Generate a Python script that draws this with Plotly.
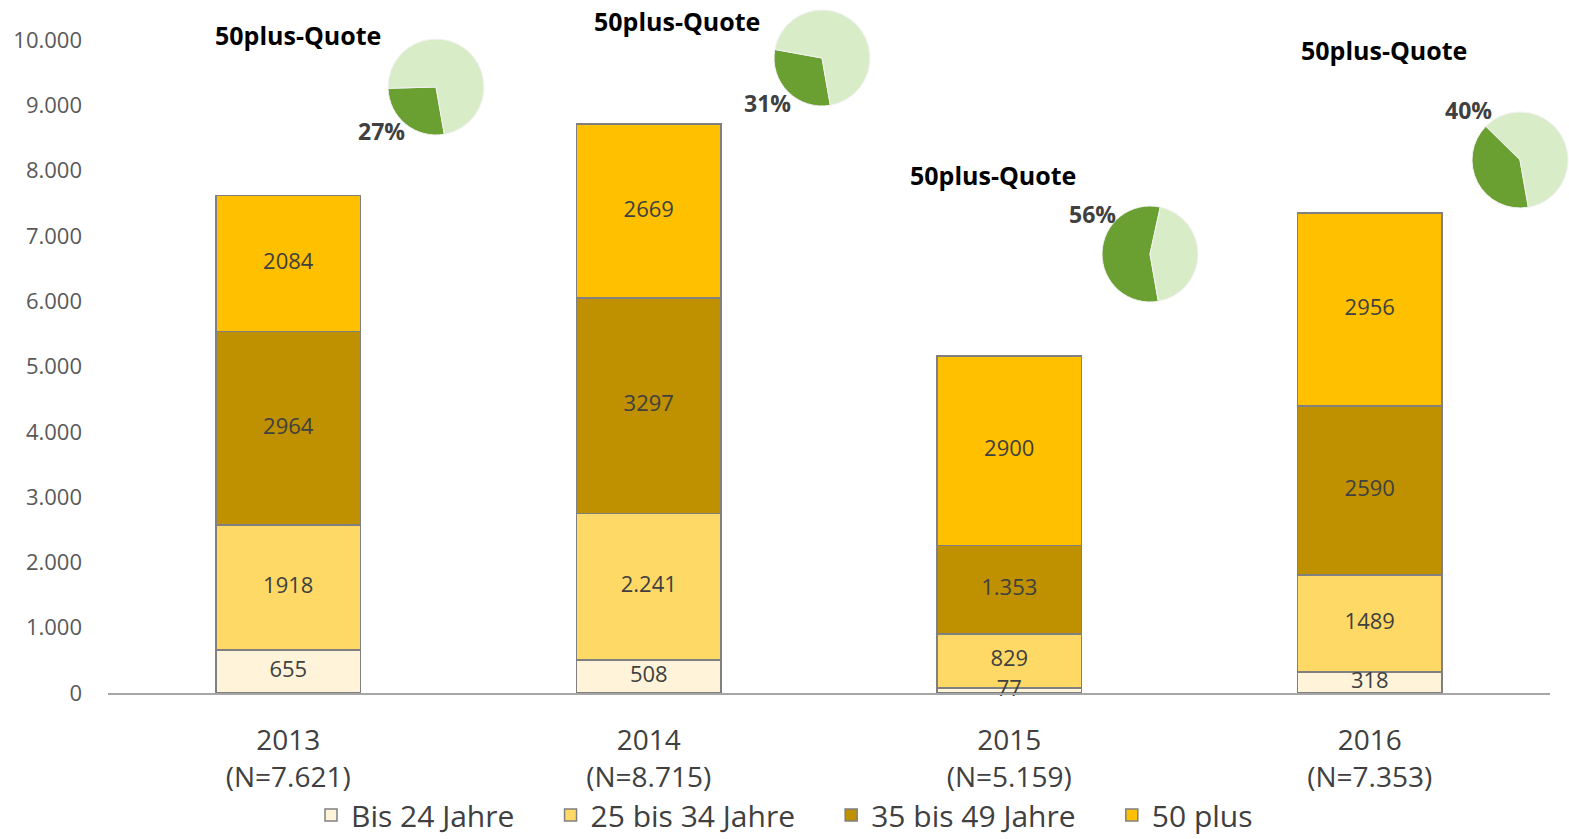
import plotly.graph_objects as go

years = ["2013", "2014", "2015", "2016"]
n_totals = ["7.621", "8.715", "5.159", "7.353"]
series_names = ["Bis 24 Jahre", "25 bis 34 Jahre", "35 bis 49 Jahre", "50 plus"]
bis24 = [655, 508, 77, 318]
a25_34 = [1918, 2241, 829, 1489]
a35_49 = [2964, 3297, 1353, 2590]
plus50 = [2084, 2669, 2900, 2956]
bis24_text = ["655", "508", "77", "318"]
a25_34_text = ["1918", "2.241", "829", "1489"]
a35_49_text = ["2964", "3297", "1.353", "2590"]
plus50_text = ["2084", "2669", "2900", "2956"]
quote_labels = ["27%", "31%", "56%", "40%"]
y_ticks = [0, 1000, 2000, 3000, 4000, 5000, 6000, 7000, 8000, 9000, 10000]
y_ticktext = ["0", "1.000", "2.000", "3.000", "4.000", "5.000", "6.000", "7.000", "8.000", "9.000", "10.000"]

colors = ["#FFF4DA", "#FFD966", "#BF9000", "#FFC000"]
W, H = 1569, 839
ML, MR, MT, MB = 108, 0, 0, 146
PW, PH = W - ML - MR, H - MT - MB
FONT = "Open Sans"

fig = go.Figure()
cats = [f"{y}<br>(N={n})" for y, n in zip(years, n_totals)]
all_vals = [bis24, a25_34, a35_49, plus50]
all_txt = [bis24_text, a25_34_text, a35_49_text, plus50_text]
base = [0, 0, 0, 0]
for name, vals, txt, col in zip(series_names, all_vals, all_txt, colors):
    fig.add_trace(go.Bar(
        name=name + "\u00a0" * 4, x=cats, y=vals,
        marker=dict(color=col, line=dict(color="#808080", width=1.5)),
        width=0.4, hoverinfo="skip"))
    mids = [b + v / 2 for b, v in zip(base, vals)]
    fig.add_trace(go.Scatter(
        x=cats, y=mids, text=txt, mode="text", textposition="middle center",
        textfont=dict(family=FONT, size=22, color="#404040"),
        showlegend=False, hoverinfo="skip", cliponaxis=False))
    base = [b + v for b, v in zip(base, vals)]

# pies (pixel centre positions for layout)
pie_centers = [(436, 87), (822, 58), (1150, 254), (1520, 160)]
pie_r = 48
title_pos = [(298, 35), (677, 21), (993, 175), (1384, 50)]
pct_pos = [(381, 131), (767, 103), (1092, 214), (1468, 110)]

def px2paper(px, py):
    return (px - ML) / PW, (H - MB - py) / PH

annotations = []
for i in range(4):
    cx, cy = pie_centers[i]
    x0, y1 = px2paper(cx - pie_r, cy - pie_r)
    x1, y0 = px2paper(cx + pie_r, cy + pie_r)
    total = bis24[i] + a25_34[i] + a35_49[i] + plus50[i]
    fig.add_trace(go.Pie(
        values=[plus50[i], total - plus50[i]], labels=["50 plus", "Rest"],
        sort=False, direction="clockwise", rotation=170,
        marker=dict(colors=["#6A9F32", "#D9ECC8"], line=dict(color="#F2F2F2", width=1)),
        textinfo="none", showlegend=False, hoverinfo="skip",
        domain=dict(x=[max(0, x0), min(1, x1)], y=[y0, y1])))
    tx, ty = px2paper(*title_pos[i])
    annotations.append(dict(text="<b>50plus-Quote</b>", x=tx, y=ty, xref="paper", yref="paper",
                            showarrow=False, xanchor="center", yanchor="middle",
                            font=dict(family=FONT, size=25, color="#000000")))
    qx, qy = px2paper(*pct_pos[i])
    annotations.append(dict(text=f"<b>{quote_labels[i]}</b>", x=qx, y=qy, xref="paper", yref="paper",
                            showarrow=False, xanchor="center", yanchor="middle",
                            font=dict(family=FONT, size=23, color="#404040")))

lx, ly = px2paper(800, 815)
fig.update_layout(
    width=W, height=H, barmode="stack",
    margin=dict(l=ML, r=MR, t=MT, b=MB, pad=0, autoexpand=False),
    plot_bgcolor="white", paper_bgcolor="white",
    annotations=annotations,
    legend=dict(orientation="h", x=lx, xanchor="center",
                y=ly, yanchor="middle",
                font=dict(family=FONT, size=30, color="#404040"),
                traceorder="normal", bgcolor="rgba(0,0,0,0)"),
    xaxis=dict(domain=[0, (1550 - ML) / PW], showline=True, linecolor="#A6A6A6", linewidth=1.5,
               tickfont=dict(family=FONT, size=28, color="#404040"),
               ticks="", ticklabelstandoff=22, automargin=False),
    yaxis=dict(domain=[0, (H - MB - 40) / PH], range=[0, 10000], tickvals=y_ticks, ticktext=y_ticktext,
               showgrid=False, zeroline=False, showline=False, automargin=False,
               tickfont=dict(family=FONT, size=22, color="#595959"), ticklabelstandoff=25),
)

fig.write_html("out.html", config={"displayModeBar": False},
               post_script="document.body.style.margin='0';document.body.style.overflow='hidden';")
